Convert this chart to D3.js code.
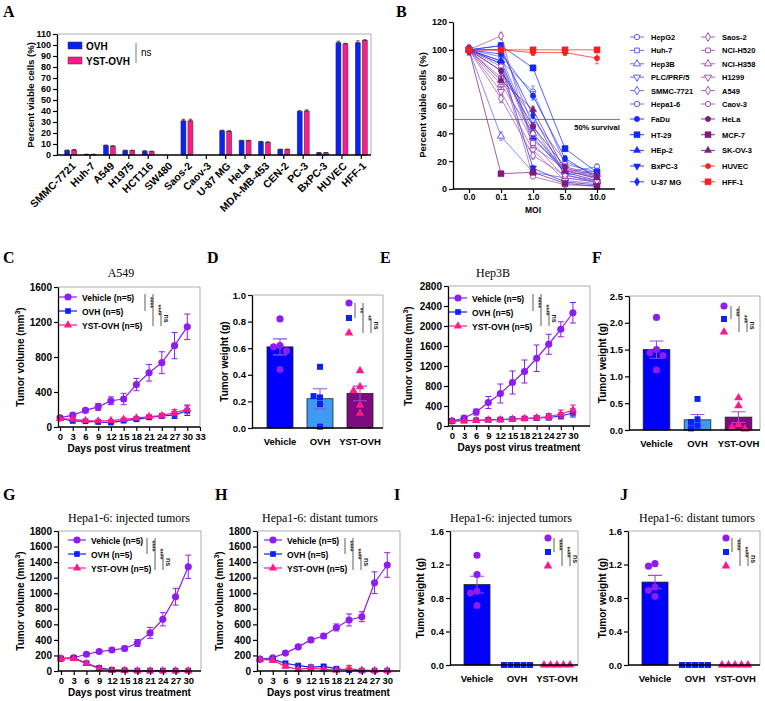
<!DOCTYPE html>
<html><head><meta charset="utf-8">
<script src="https://cdn.jsdelivr.net/npm/d3@7/dist/d3.min.js"></script>
<style>html,body{margin:0;padding:0;background:#fff;}</style>
</head><body>
<script>
// ======================= DATA =======================
// Panel A
const cellLinesA = ["SMMC-7721","Huh-7","A549","H1975","HCT116","SW480","Saos-2","Caov-3","U-87 MG","HeLa","MDA-MB-453","CEN-2","PC-3","BxPC-3","HUVEC","HFF-1"];
const ovhA    = [4.0,0.5,8.5,4.0,3.5,0,31.0,0,22.0,13.0,12.0,5.0,39.5,2.0,102.0,102.0];
const ovhErrA = [0.6,0.2,0.6,0.4,0.4,0,1.5,0,0.6,0.4,0.4,0.4,0.8,0.3,1.5,1.8];
const ystA    = [4.5,0.5,8.0,4.0,3.0,0,31.0,0,21.5,13.0,11.5,5.0,40.0,2.0,101.0,104.0];
const ystErrA = [0.5,0.2,0.5,0.4,0.5,0,1.5,0,0.6,0.4,0.5,0.4,1.0,0.3,0.6,0.8];
const yTicksA = [0,10,20,30,40,50,60,70,80,90,100,110];

// Panel B
const moiLabels = ["0.0","0.1","1.0","5.0","10.0"];
const yTicksB = [0,20,40,60,80,100,120];
const bNames = ["HepG2","Huh-7","Hep3B","PLC/PRF/5","SMMC-7721","Hepa1-6","FaDu","HT-29","HEp-2","BxPC-3","U-87 MG",
                "Saos-2","NCI-H520","NCI-H358","H1299","A549","Caov-3","HeLa","MCF-7","SK-OV-3","HUVEC","HFF-1"];
const bViability = [
  [100,95,40,12,16],[100,103,45,10,13],[100,38,12,8,5],[100,90,35,15,8],[100,85,50,20,10],[100,92,70,18,12],
  [100,97,67,22,8],[100,103,87,29,12],[100,92,37,12,6],[100,90,15,5,3],[100,100,53,10,5],
  [100,110,30,15,9],[100,80,33,8,5],[100,75,40,14,7],[100,70,28,6,4],[100,65,24,10,6],[100,88,9,3,2],
  [100,85,45,16,10],[100,11,12,4,2],[100,78,57,13,8],[100,100,98,98,94],[100,100,100,100,100]
];
const bError = [
  [3,2,3,2,2],[2,2,3,2,2],[2,3,2,1,1],[3,3,3,2,1],[2,4,3,2,1],[3,2,4,2,2],
  [2,2,3,2,1],[2,2,2,2,1],[3,3,2,1,1],[2,2,2,1,1],[2,2,2,1,1],
  [4,2,2,2,1],[3,3,2,1,1],[2,4,3,1,1],[2,3,2,1,1],[3,3,2,1,1],[2,2,1,1,1],
  [3,2,3,2,1],[2,1,1,1,1],[3,3,2,2,1],[2,1,2,2,4],[1,1,1,1,1]
];

// Tumor growth (days)
const daysGrowth = [0,3,6,9,12,15,18,21,24,27,30];
const xTicksC = [0,3,6,9,12,15,18,21,24,27,30,33];
const xTicks30 = [0,3,6,9,12,15,18,21,24,27,30];
// C: A549
const vehC = [105,135,190,230,300,320,485,620,735,930,1145];
const vehCErr = [15,20,20,40,45,65,70,95,125,150,146];
const ovhC = [99,69,65,57,50,72,88,110,126,137,187];
const ovhCErr = [10,12,10,10,10,15,15,20,25,40,55];
const ystC = [95,88,73,69,73,88,103,118,130,164,202];
const ystCErr = [10,12,10,10,10,15,15,20,25,35,50];
const yTicksC = [0,400,800,1200,1600];
// E: Hep3B
const vehE = [100,160,280,470,650,870,1090,1355,1635,1935,2265];
const vehEErr = [20,40,60,120,190,230,230,265,200,150,205];
const ovhE = [100,110,115,125,130,140,150,160,170,200,260];
const ovhEErr = [10,15,15,20,20,25,30,40,50,60,80];
const ystE = [100,100,110,120,125,135,150,165,190,240,320];
const ystEErr = [10,15,15,20,20,25,30,40,60,80,100];
const yTicksE = [0,400,800,1200,1600,2000,2400,2800];
// G: Hepa1-6 injected
const vehG = [160,170,215,250,270,290,360,490,665,955,1340];
const vehGErr = [10,15,20,20,25,30,45,70,85,108,150];
const ovhG = [160,170,100,40,15,10,5,5,5,5,5];
const ovhGErr = [10,15,15,10,5,5,3,3,3,3,3];
const ystG = [160,160,95,30,10,5,3,2,2,2,2];
const ystGErr = [10,15,15,10,5,3,2,2,2,2,2];
// H: Hepa1-6 distant
const vehH = [150,170,230,310,400,450,560,656,698,1135,1363];
const vehHErr = [10,15,20,25,30,30,45,77,64,140,158];
const ovhH = [150,150,100,70,50,60,30,10,5,5,5];
const ovhHErr = [20,20,20,15,15,20,10,5,3,3,3];
const ystH = [150,140,60,20,40,20,10,30,10,5,5];
const ystHErr = [20,30,20,10,30,15,10,40,10,5,5];
const yTicksGH = [0,200,400,600,800,1000,1200,1400,1600,1800];

// Tumor weights
const groups = ["Vehicle","OVH","YST-OVH"];
// D: A549
const meanD = [0.61,0.22,0.26];
const errD = [0.06,0.075,0.055];
const vehDotsD = [0.82,0.62,0.61,0.58,0.44];
const ovhDotsD = [0.46,0.23,0.24,0.18,0.01];
const ystDotsD = [0.43,0.31,0.28,0.17,0.11];
const yTicksD = [0,0.2,0.4,0.6,0.8,1.0];
// F: Hep3B
const meanF = [1.5,0.19,0.24];
const errF = [0.16,0.1,0.1];
const vehDotsF = [2.1,1.5,1.44,1.39,1.12];
const ovhDotsF = [0.58,0.2,0.15,0.08,0.03];
const ystDotsF = [0.6,0.45,0.1,0.05,0.02];
const yTicksF = [0,0.5,1.0,1.5,2.0,2.5];
// I: Hepa1-6 injected
const meanI = [0.96,0,0];
const errI = [0.1,0,0];
const vehDotsI = [1.31,1.08,0.88,0.86,0.71];
const ovhDotsI = [0,0,0,0,0];
const ystDotsI = [0,0,0,0,0];
// J: Hepa1-6 distant
const meanJ = [0.99,0,0];
const errJ = [0.08,0,0];
const vehDotsJ = [1.21,1.18,0.93,0.89,0.82];
const ovhDotsJ = [0,0,0,0,0];
const ystDotsJ = [0,0,0,0,0];
const yTicksIJ = [0,0.4,0.8,1.2,1.6];

// ======================= STYLE / HELPERS =======================
const FONT = "'Liberation Sans', Arial, sans-serif";
const SERIF = "'Liberation Serif', 'Times New Roman', serif";
const cVeh = "#8f1cf0", cOVH = "#0a22f5", cYST = "#ff1a8c";
const barCols = ["#0000ff", "#3d9bf2", "#7e0a80"];
const svg = d3.select("body").append("svg").attr("width",765).attr("height",701).attr("font-family",FONT);

function txt(x,y,s,o={}){
  const t = svg.append("text").attr("x",x).attr("y",y).text(s)
    .attr("font-size",o.size||10).attr("font-weight",o.weight||"bold")
    .attr("text-anchor",o.anchor||"start").attr("fill",o.fill||"#000");
  if(o.family) t.attr("font-family",o.family);
  if(o.rotate!=null) t.attr("transform",`rotate(${o.rotate},${x},${y})`);
  return t;
}
function letter(s,x,y){ txt(x,y,s,{size:16,family:SERIF}); }
function frame(l,r,t,b){
  svg.append("path").attr("d",`M${l},${t}H${r}V${b}`).attr("fill","none").attr("stroke","#9a9a9a").attr("stroke-width",0.8);
}
function styleAxis(g,fs){
  g.attr("font-family",FONT);
  g.select(".domain").attr("stroke","#000").attr("stroke-width",1.3);
  g.selectAll(".tick line").attr("stroke","#000").attr("stroke-width",1.2);
  g.selectAll(".tick text").attr("font-size",fs).attr("font-weight","bold").attr("fill","#000").attr("font-family",FONT);
}
function yAxis(y,x,ticks,fmt,fs){
  const g = svg.append("g").attr("transform",`translate(${x},0)`)
    .call(d3.axisLeft(y).tickValues(ticks).tickFormat(fmt).tickSize(4).tickSizeOuter(0).tickPadding(2));
  styleAxis(g,fs); return g;
}
function hline(x1,x2,y){ svg.append("line").attr("x1",x1).attr("x2",x2).attr("y1",y).attr("y2",y).attr("stroke","#000").attr("stroke-width",1.3); }
function shapeOf(name){
  return {circle:d3.symbolCircle,square:d3.symbolSquare,triangle:d3.symbolTriangle,diamond:d3.symbolDiamond,tridown:d3.symbolTriangle}[name];
}
function errPath(x,yTop,yBot,cap){
  return `M${x},${yTop}V${yBot}M${x-cap},${yTop}H${x+cap}M${x-cap},${yBot}H${x+cap}`;
}
function volLabel(x,yc){
  const t = svg.append("text").attr("transform",`translate(${x},${yc}) rotate(-90)`).attr("text-anchor","middle")
    .attr("font-size",10).attr("font-weight","bold");
  t.append("tspan").text("Tumor volume (mm");
  t.append("tspan").text("3").attr("font-size",7).attr("dy",-4);
  t.append("tspan").text(")").attr("dy",4);
}
function sig(xs,ys,labels){
  const segs = [[ys[0],ys[1]],[ys[0],ys[2]],[ys[1],ys[2]]];
  segs.forEach((s,i)=>{
    svg.append("line").attr("x1",xs[i]).attr("x2",xs[i]).attr("y1",s[0]).attr("y2",s[1]).attr("stroke","#333").attr("stroke-width",0.8);
    const cy=(s[0]+s[1])/2;
    svg.append("text").attr("transform",`translate(${xs[i]+2.5},${cy}) rotate(90)`).attr("text-anchor","middle")
      .attr("font-size",7).attr("font-weight","bold").attr("fill","#222").text(labels[i]);
  });
}

// ======================= PANEL A =======================
letter("A",3,17);
{
  const left=57,right=371,top=34,bottom=155;
  const x = d3.scaleBand().domain(cellLinesA).range([61,371]);
  const y = d3.scaleLinear().domain([0,110]).range([bottom,top]);
  frame(left,right,top,bottom);
  const bw=5;
  [[ovhA,ovhErrA,cOVH,-1],[ystA,ystErrA,cYST,1]].forEach(([vals,errs,col,side])=>{
    const g=svg.append("g");
    g.selectAll("rect").data(cellLinesA).join("rect")
      .attr("x",d=>x(d)+x.bandwidth()/2+(side<0?-bw-1:1))
      .attr("y",(d,i)=>y(vals[i])).attr("width",bw).attr("height",(d,i)=>Math.max(0,bottom-y(vals[i])))
      .attr("fill",col).attr("stroke","#333").attr("stroke-width",0.5);
    g.selectAll("path").data(cellLinesA).join("path")
      .attr("d",(d,i)=>{const cx=x(d)+x.bandwidth()/2+(side<0?-bw/2-1:bw/2+1); return vals[i]>0?errPath(cx,y(vals[i]+errs[i]),y(vals[i]),1.8):"";})
      .attr("stroke","#333").attr("stroke-width",0.8).attr("fill","none");
  });
  yAxis(y,left,yTicksA,d3.format("d"),9);
  const gx = svg.append("g").attr("transform",`translate(0,${bottom})`).call(d3.axisBottom(x).tickSize(4).tickSizeOuter(0));
  styleAxis(gx,10.5);
  gx.select(".domain").remove();
  hline(left,right,bottom);
  gx.selectAll(".tick text").attr("text-anchor","end").attr("x",0).attr("y",0).attr("dy","0.35em")
    .attr("transform","translate(3,9) rotate(-45)");
  svg.append("text").attr("transform","translate(34,95) rotate(-90)").attr("text-anchor","middle")
    .attr("font-size",9.5).attr("font-weight","bold").text("Percent viable cells (%)");
  // legend
  [["OVH",cOVH],["YST-OVH",cYST]].forEach((d,i)=>{
    svg.append("rect").attr("x",68).attr("y",42+i*15).attr("width",14).attr("height",7).attr("fill",d[1]).attr("stroke","#333").attr("stroke-width",0.5);
    txt(86,49.5+i*15,d[0],{size:10});
  });
  svg.append("line").attr("x1",136).attr("x2",136).attr("y1",43).attr("y2",63).attr("stroke","#555").attr("stroke-width",0.8);
  txt(141,56,"ns",{size:10,weight:"normal"});
}

// ======================= PANEL B =======================
letter("B",396,17);
{
  const left=453,right=615,top=22,bottom=189;
  const x = d3.scalePoint().domain(moiLabels).range([left,613]).padding(0.5);
  const y = d3.scaleLinear().domain([0,120]).range([bottom,top]);
  const blueOpen="#5560ff", blueFill="#1228ff", purOpen="#a452b4", purFill="#7d1c80", red="#ff1f1f";
  const bStyle = [
    ["circle",0,blueOpen],["square",0,blueOpen],["triangle",0,blueOpen],["tridown",0,blueOpen],["diamond",0,blueOpen],["circle",0,blueOpen],
    ["circle",1,blueFill],["square",1,blueFill],["triangle",1,blueFill],["tridown",1,blueFill],["diamond",1,blueFill],
    ["diamond",0,purOpen],["square",0,purOpen],["triangle",0,purOpen],["tridown",0,purOpen],["diamond",0,purOpen],["circle",0,purOpen],
    ["circle",1,purFill],["square",1,purFill],["triangle",1,purFill],["circle",1,red],["square",1,red]
  ];
  const mk = (g,st,cx,cy,size)=>{
    g.append("path").attr("d",d3.symbol(shapeOf(st[0]),size)())
      .attr("transform",`translate(${cx},${cy})${st[0]==="tridown"?" rotate(180)":""}`)
      .attr("fill",st[1]?st[2]:"#fff").attr("stroke",st[2]).attr("stroke-width",st[1]?0.5:1);
  };
  // 50% line
  svg.append("line").attr("x1",left).attr("x2",620).attr("y1",y(50)).attr("y2",y(50)).attr("stroke","#777").attr("stroke-width",1);
  txt(597,130,"50% survival",{size:7.5,anchor:"middle"});
  bNames.forEach((n,i)=>{
    const st=bStyle[i], vals=bViability[i], errs=bError[i];
    const g=svg.append("g");
    g.append("path").datum(vals).attr("d",d3.line().x((v,j)=>x(moiLabels[j])).y(v=>y(v)))
      .attr("fill","none").attr("stroke",st[2]).attr("stroke-width",0.8).attr("opacity",0.9);
    vals.forEach((v,j)=>{
      g.append("path").attr("d",errPath(x(moiLabels[j]),y(v+errs[j]),y(Math.max(0,v-errs[j])),2))
        .attr("stroke",st[2]).attr("stroke-width",0.7).attr("fill","none");
      mk(g,st,x(moiLabels[j]),y(v),(st[0]==="square"&&st[1])?36:22);
    });
  });
  yAxis(y,left,yTicksB,d3.format("d"),9);
  const gx = svg.append("g").attr("transform",`translate(0,${bottom})`).call(d3.axisBottom(x).tickSize(4).tickSizeOuter(0).tickPadding(1));
  styleAxis(gx,8.5);
  gx.select(".domain").remove();
  hline(left,right,bottom);
  txt(533,213,"MOI",{size:8.5,anchor:"middle"});
  svg.append("text").attr("transform","translate(426,105) rotate(-90)").attr("text-anchor","middle")
    .attr("font-size",9.5).attr("font-weight","bold").text("Percent viable cells (%)");
  // legend
  bNames.forEach((n,i)=>{
    const col = i<11?0:1, r = i<11?i:i-11;
    const lx = col?708:637;
    const ly = r<6 ? 37+r*13.4 : 119+(r-6)*15.7;
    const g=svg.append("g");
    g.append("line").attr("x1",lx-7).attr("x2",lx+7).attr("y1",ly).attr("y2",ly).attr("stroke",bStyle[i][2]).attr("stroke-width",0.9);
    mk(g,bStyle[i],lx,ly,(bStyle[i][0]==="square"&&bStyle[i][1])?36:22);
    txt(lx+14,ly+3,n,{size:7.5});
  });
}

// ======================= GROWTH PANELS =======================
function growth(o){
  const x = d3.scaleLinear().domain([0,33]).range([o.x0,o.x1]);
  const y = d3.scaleLinear().domain([0,o.ymax]).range([o.bottom,o.top]);
  frame(o.left,o.right,o.top,o.bottom);
  o.series.forEach(s=>{
    const pts = daysGrowth.map((d,i)=>({d,v:s.vals[i],e:s.errs[i]}));
    const g=svg.append("g");
    g.selectAll("path.err").data(pts).join("path").attr("class","err")
      .attr("d",p=>errPath(x(p.d),y(p.v+p.e),y(Math.max(0,p.v-p.e)),3))
      .attr("stroke",s.color).attr("stroke-width",1).attr("fill","none");
    g.append("path").datum(pts).attr("d",d3.line().x(p=>x(p.d)).y(p=>y(p.v)))
      .attr("stroke",s.color).attr("stroke-width",1.2).attr("fill","none");
    g.selectAll("path.mk").data(pts).join("path").attr("class","mk")
      .attr("transform",p=>`translate(${x(p.d)},${y(p.v)})`)
      .attr("d",d3.symbol(s.shape,s.size)).attr("fill",s.color);
  });
  yAxis(y,o.left,o.yticks,d3.format("d"),10);
  const gx = svg.append("g").attr("transform",`translate(0,${o.bottom})`).call(d3.axisBottom(x).tickValues(o.xticks).tickSize(4).tickPadding(2));
  styleAxis(gx,9.5);
  gx.select(".domain").remove();
  hline(o.left,o.right,o.bottom);
  // legend
  o.series.forEach((s,i)=>{
    const ly=o.legY+i*14;
    svg.append("line").attr("x1",o.legX-9).attr("x2",o.legX+9).attr("y1",ly).attr("y2",ly).attr("stroke",s.color).attr("stroke-width",1.2);
    svg.append("path").attr("transform",`translate(${o.legX},${ly})`).attr("d",d3.symbol(s.shape,s.size)()).attr("fill",s.color);
    txt(o.legX+14,ly+3.5,s.name,{size:8.5});
  });
  txt(o.titleX,o.titleY,o.title,{size:12,weight:"normal",family:SERIF,anchor:"middle"});
  volLabel(o.ylabX,(o.top+o.bottom)/2);
  txt((o.left+o.right)/2,o.bottom+25,"Days post virus treatment",{size:10,anchor:"middle"});
  sig(o.sigX,o.sigY,["****","****","ns"]);
}
const mkSeries=(v,ve,o,oe,yv,ye)=>[
  {name:"Vehicle (n=5)",vals:v,errs:ve,color:cVeh,shape:d3.symbolCircle,size:40},
  {name:"OVH (n=5)",vals:o,errs:oe,color:cOVH,shape:d3.symbolSquare,size:32},
  {name:"YST-OVH (n=5)",vals:yv,errs:ye,color:cYST,shape:d3.symbolTriangle,size:30}
];

letter("C",3,263);
growth({left:58,right:200,x0:60,x1:200,top:287,bottom:427,ymax:1600,yticks:yTicksC,xticks:xTicksC,
  series:mkSeries(vehC,vehCErr,ovhC,ovhCErr,ystC,ystCErr),legX:68,legY:297,
  title:"A549",titleX:121,titleY:277,ylabX:24,sigX:[145,153,161],sigY:[294,311,326]});

letter("E",380,263);
growth({left:448,right:590,x0:452,x1:585,top:286,bottom:426,ymax:2800,yticks:yTicksE,xticks:xTicks30,
  series:mkSeries(vehE,vehEErr,ovhE,ovhEErr,ystE,ystEErr),legX:458,legY:298,
  title:"Hep3B",titleX:493,titleY:277,ylabX:412,sigX:[533,541,549],sigY:[294,311,326]});

letter("G",3,500);
growth({left:58,right:201,x0:61,x1:201,top:531,bottom:671,ymax:1800,yticks:yTicksGH,xticks:xTicks30,
  series:mkSeries(vehG,vehGErr,ovhG,ovhGErr,ystG,ystGErr),legX:77,legY:540,
  title:"Hepa1-6: injected tumors",titleX:129,titleY:522,ylabX:24,sigX:[147,155,163],sigY:[538,554,570]});

letter("H",215,500);
growth({left:257,right:400,x0:260,x1:400,top:531,bottom:671,ymax:1800,yticks:yTicksGH,xticks:xTicks30,
  series:mkSeries(vehH,vehHErr,ovhH,ovhHErr,ystH,ystHErr),legX:273,legY:540,
  title:"Hepa1-6: distant tumors",titleX:320,titleY:522,ylabX:223,sigX:[345,353,361],sigY:[538,554,570]});

// ======================= WEIGHT PANELS =======================
function swarm(vals,y,cx,step){
  const placed=[];
  return vals.map(v=>{
    const py=y(v);
    for(let k=0;k<12;k++){
      const off=(k===0?0:(k%2?-Math.ceil(k/2):Math.ceil(k/2)))*step;
      const px=cx+off;
      if(placed.every(p=>Math.hypot(p[0]-px,p[1]-py)>=step-0.5)){placed.push([px,py]);return [px,py];}
    }
    return [cx,py];
  });
}
function weight(o){
  const x = d3.scaleBand().domain(groups).range([o.b0,o.b1]).paddingInner(0.35).paddingOuter(0.175);
  const y = d3.scaleLinear().domain([0,o.ymax]).range([o.bottom,o.top]);
  frame(o.left,o.right,o.top,o.bottom);
  svg.append("g").selectAll("rect").data(groups).join("rect")
    .attr("x",d=>x(d)).attr("width",x.bandwidth())
    .attr("y",(d,i)=>y(o.means[i])).attr("height",(d,i)=>o.bottom-y(o.means[i]))
    .attr("fill",(d,i)=>barCols[i]).attr("stroke","#222").attr("stroke-width",0.8);
  svg.append("g").selectAll("path").data(groups).join("path")
    .attr("d",(d,i)=>o.means[i]>0?errPath(x(d)+x.bandwidth()/2,y(o.means[i]+o.errs[i]),y(o.means[i]-o.errs[i]),7):"")
    .attr("stroke","#9a4fe0").attr("stroke-width",1.1).attr("fill","none");
  const dotSets=[[o.veh,d3.symbolCircle,cVeh,40],[o.ovh,d3.symbolSquare,cOVH,36],[o.yst,d3.symbolTriangle,cYST,32]];
  dotSets.forEach(([vals,sh,col,sz],gi)=>{
    const pos=swarm(vals,y,x(groups[gi])+x.bandwidth()/2,6.5);
    svg.append("g").selectAll("path").data(pos).join("path")
      .attr("transform",p=>`translate(${p[0]},${p[1]})`).attr("d",d3.symbol(sh,sz)).attr("fill",col);
  });
  yAxis(y,o.left,o.yticks,d3.format(".1f"),9.5);
  hline(o.left,o.right,o.bottom);
  groups.forEach(g=>txt(x(g)+x.bandwidth()/2,o.bottom+17,g,{size:9.5,anchor:"middle"}));
  svg.append("text").attr("transform",`translate(${o.ylabX},${(o.top+o.bottom)/2}) rotate(-90)`).attr("text-anchor","middle")
    .attr("font-size",10).attr("font-weight","bold").text("Tumor weight (g)");
  if(o.title) txt(o.titleX,o.titleY,o.title,{size:12,weight:"normal",family:SERIF,anchor:"middle"});
  [[d3.symbolCircle,cVeh,40],[d3.symbolSquare,cOVH,36],[d3.symbolTriangle,cYST,32]].forEach((m,i)=>{
    svg.append("path").attr("transform",`translate(${o.mkX},${o.sigY[i]})`).attr("d",d3.symbol(m[0],m[2])()).attr("fill",m[1]);
  });
  sig(o.sigX,o.sigY,o.sigL);
}

letter("D",207,263);
weight({left:252,right:383,b0:260,b1:380,top:295,bottom:428,ymax:1.0,yticks:yTicksD,means:meanD,errs:errD,
  veh:vehDotsD,ovh:ovhDotsD,yst:ystDotsD,ylabX:228,mkX:349,sigY:[303,318,333],sigX:[355,363,371],sigL:["**","**","ns"]});

letter("F",592,263);
weight({left:629,right:760,b0:636,b1:759,top:296,bottom:430,ymax:2.5,yticks:yTicksF,means:meanF,errs:errF,
  veh:vehDotsF,ovh:ovhDotsF,yst:ystDotsF,ylabX:606,mkX:724,sigY:[306,319,332],sigX:[731,739,747],sigL:["***","***","ns"]});

letter("I",394,500);
weight({left:450,right:578,b0:457,b1:577,top:531,bottom:665,ymax:1.6,yticks:yTicksIJ,means:meanI,errs:errI,
  veh:vehDotsI,ovh:ovhDotsI,yst:ystDotsI,ylabX:424,mkX:548,sigY:[538,552,566],sigX:[554,562,570],sigL:["****","****","ns"],
  title:"Hepa1-6: injected tumors",titleX:511,titleY:522});

letter("J",620,500);
weight({left:628,right:760,b0:635,b1:755,top:531,bottom:665,ymax:1.6,yticks:yTicksIJ,means:meanJ,errs:errJ,
  veh:vehDotsJ,ovh:ovhDotsJ,yst:ystDotsJ,ylabX:606,mkX:726,sigY:[538,552,566],sigX:[732,740,748],sigL:["****","****","ns"],
  title:"Hepa1-6: distant tumors",titleX:697,titleY:522});
</script>
</body></html>
